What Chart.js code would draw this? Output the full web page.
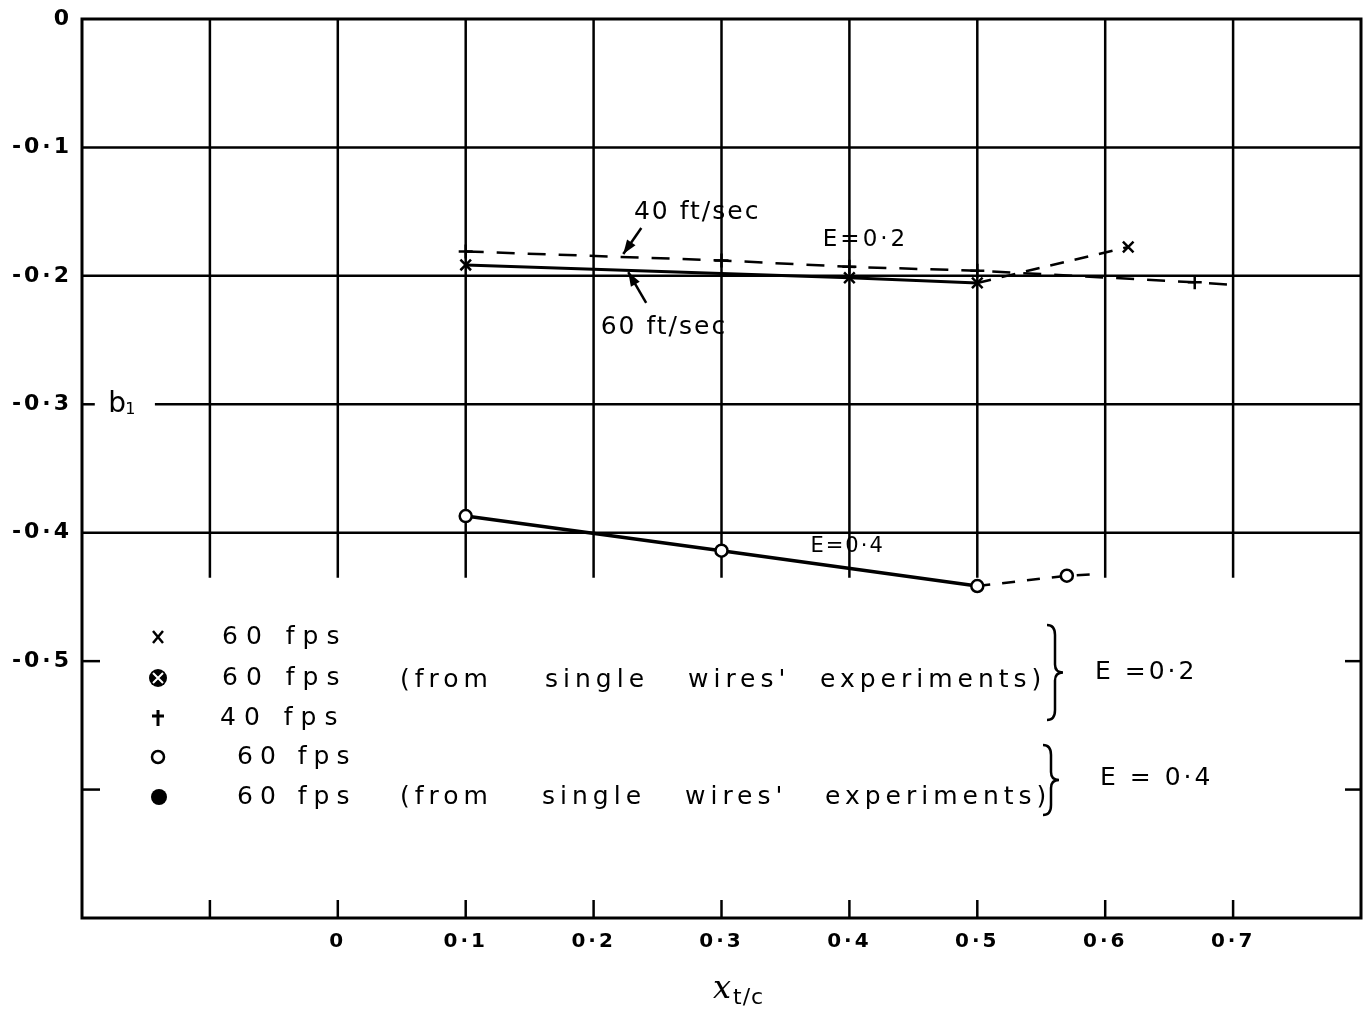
<!DOCTYPE html>
<html>
<head>
<meta charset="utf-8">
<title>b1 x xt/c</title>
<script src="https://cdn.jsdelivr.net/npm/chart.js"></script>
<style>
  html, body { margin: 0; padding: 0; background: #fff; }
  canvas { display: block; }
</style>
</head>
<body>
<canvas id="grafico" width="1371" height="1011"></canvas>
<script>
// ticks of the axes
const xTicks = [-0.2, -0.1, 0, 0.1, 0.2, 0.3, 0.4, 0.5, 0.6, 0.7, 0.8];
const xTickLabels = ["", "", "0", "0·1", "0·2", "0·3", "0·4", "0·5", "0·6", "0·7", ""];
const yTicks = [0, -0.1, -0.2, -0.3, -0.4, -0.5, -0.6, -0.7];
const yTickLabels = ["0", "-0·1", "-0·2", "-0·3", "-0·4", "-0·5", "", ""];

// E = 0.2, 40 ft/sec (+)
const x40 = [0.1, 0.3, 0.4, 0.5, 0.67, 0.7];
const b40 = [-0.181, -0.188, -0.193, -0.196, -0.205, -0.207];
// E = 0.2, 60 ft/sec (x)
const x60 = [0.1, 0.4, 0.5];
const b60 = [-0.1915, -0.2015, -0.2055];
const x60ext = [0.5, 0.618];
const b60ext = [-0.2055, -0.1775];
// E = 0.4, 60 ft/sec (o)
const xE4 = [0.1, 0.3, 0.5];
const bE4 = [-0.387, -0.414, -0.4415];
const xE4ext = [0.5, 0.57, 0.59];
const bE4ext = [-0.4415, -0.4335, -0.4325];

const FONTE = '"DejaVu Sans", sans-serif';

function pontos(xs, ys) {
  return xs.map((x, i) => ({ x: x, y: ys[i] }));
}

// wider letters for the tick labels (hand lettering)
const espacoPlugin = {
  id: "espaco",
  beforeDraw(chart) {
    chart.ctx.letterSpacing = "3px";
  },
};

// grid drawn by hand: the lines stop above the key
const gradePlugin = {
  id: "grade",
  beforeDatasetsDraw(chart) {
    const { ctx, chartArea: a, scales } = chart;
    const sx = scales.x, sy = scales.y;
    ctx.save();
    ctx.strokeStyle = "#000";
    ctx.lineWidth = 2.5;
    const linha = (x1, y1, x2, y2) => {
      ctx.beginPath();
      ctx.moveTo(x1, y1);
      ctx.lineTo(x2, y2);
      ctx.stroke();
    };
    const yFim = sy.getPixelForValue(-0.435);
    xTicks.slice(1, -1).forEach((v) => {
      const p = sx.getPixelForValue(v);
      linha(p, a.top, p, yFim);
      linha(p, a.bottom, p, a.bottom - 18);
    });
    [-0.1, -0.2, -0.4].forEach((v) => {
      const p = sy.getPixelForValue(v);
      linha(a.left, p, a.right, p);
    });
    const p3 = sy.getPixelForValue(-0.3);
    linha(a.left, p3, sx.getPixelForValue(-0.19), p3);
    linha(sx.getPixelForValue(-0.143), p3, a.right, p3);
    [-0.5, -0.6].forEach((v) => {
      const p = sy.getPixelForValue(v);
      linha(a.left, p, a.left + 18, p);
      linha(a.right - 16, p, a.right, p);
    });
    ctx.lineWidth = 3;
    ctx.strokeRect(a.left, a.top, a.right - a.left, a.bottom - a.top);
    ctx.restore();
  },
};

// labels, arrows, key and axis titles
const textosPlugin = {
  id: "textos",
  afterDatasetsDraw(chart) {
    const { ctx, scales } = chart;
    const px = (v) => scales.x.getPixelForValue(v);
    const py = (v) => scales.y.getPixelForValue(v);
    ctx.save();
    ctx.fillStyle = "#000";
    ctx.strokeStyle = "#000";
    ctx.textBaseline = "middle";

    const texto = (t, x, y, tam, esp, alinh) => {
      ctx.font = tam + "px " + FONTE;
      ctx.letterSpacing = (esp || 0) + "px";
      ctx.textAlign = alinh || "left";
      ctx.fillText(t, x, y);
    };
    const seta = (x1, y1, x2, y2) => {
      ctx.lineWidth = 2.5;
      ctx.beginPath();
      ctx.moveTo(x1, y1);
      ctx.lineTo(x2, y2);
      ctx.stroke();
      const ang = Math.atan2(y2 - y1, x2 - x1);
      ctx.beginPath();
      ctx.moveTo(x2, y2);
      ctx.lineTo(x2 - 15 * Math.cos(ang - 0.35), y2 - 15 * Math.sin(ang - 0.35));
      ctx.lineTo(x2 - 15 * Math.cos(ang + 0.35), y2 - 15 * Math.sin(ang + 0.35));
      ctx.closePath();
      ctx.fill();
    };
    const chave = (x, y1, y2) => {
      const m = (y1 + y2) / 2;
      ctx.lineWidth = 2.5;
      ctx.beginPath();
      ctx.moveTo(x, y1);
      ctx.quadraticCurveTo(x + 8, y1, x + 8, y1 + 10);
      ctx.lineTo(x + 8, m - 8);
      ctx.quadraticCurveTo(x + 8, m, x + 16, m);
      ctx.quadraticCurveTo(x + 8, m, x + 8, m + 8);
      ctx.lineTo(x + 8, y2 - 10);
      ctx.quadraticCurveTo(x + 8, y2, x, y2);
      ctx.stroke();
    };

    // curve labels
    texto("40 ft/sec", px(0.281), py(-0.151), 25, 2, "center");
    texto("60 ft/sec", px(0.255), py(-0.2406), 25, 2, "center");
    texto("E=0·2", px(0.4126), py(-0.172), 23, 3, "center");
    texto("E=0·4", px(0.3986), py(-0.411), 21, 2, "center");
    seta(px(0.2373), py(-0.1627), px(0.2232), py(-0.183));
    seta(px(0.2411), py(-0.2211), px(0.2271), py(-0.197));

    // b1
    ctx.textBaseline = "alphabetic";
    texto("b", px(-0.1795), py(-0.3) + 8, 28, 0, "left");
    texto("1", px(-0.1795) + 17, py(-0.3) + 10, 16, 0, "left");

    // x axis title
    ctx.font = "italic 32px \"DejaVu Serif\", serif";
    ctx.letterSpacing = "0px";
    ctx.textAlign = "right";
    ctx.fillText("x", 731, 998);
    texto("t/c", 733, 1004, 22, 1, "left");
    ctx.textBaseline = "middle";

    // key
    const sx0 = 158;
    const lin = [637, 678, 718, 757, 797];
    ctx.lineWidth = 2.5;
    // x
    ctx.beginPath();
    ctx.moveTo(sx0 - 5, lin[0] - 6); ctx.lineTo(sx0 + 5, lin[0] + 6);
    ctx.moveTo(sx0 + 5, lin[0] - 6); ctx.lineTo(sx0 - 5, lin[0] + 6);
    ctx.stroke();
    // circled cross
    ctx.beginPath();
    ctx.arc(sx0, lin[1], 9, 0, Math.PI * 2);
    ctx.fill();
    ctx.strokeStyle = "#fff";
    ctx.lineWidth = 2;
    ctx.beginPath();
    ctx.moveTo(sx0 - 5, lin[1] - 5); ctx.lineTo(sx0 + 5, lin[1] + 5);
    ctx.moveTo(sx0 + 5, lin[1] - 5); ctx.lineTo(sx0 - 5, lin[1] + 5);
    ctx.stroke();
    ctx.strokeStyle = "#000";
    ctx.lineWidth = 3;
    // +
    ctx.beginPath();
    ctx.moveTo(sx0, lin[2] - 8); ctx.lineTo(sx0, lin[2] + 8);
    ctx.moveTo(sx0 - 6, lin[2] - 2); ctx.lineTo(sx0 + 6, lin[2] - 2);
    ctx.stroke();
    // o
    ctx.lineWidth = 2.5;
    ctx.beginPath();
    ctx.arc(sx0, lin[3], 6, 0, Math.PI * 2);
    ctx.stroke();
    // filled dot
    ctx.beginPath();
    ctx.arc(sx0 + 1, lin[4], 8, 0, Math.PI * 2);
    ctx.fill();

    texto("60 fps", 222, lin[0], 25, 8);
    texto("60 fps", 222, lin[1], 25, 8);
    texto("40 fps", 220, lin[2], 25, 8);
    texto("60 fps", 237, lin[3], 25, 7);
    texto("60 fps", 237, lin[4], 25, 7);

    const palavras = ["(from", "single", "wires'", "experiments)"];
    [400, 545, 688, 820].forEach((x, i) => texto(palavras[i], x, lin[1] + 2, 25, 5));
    [400, 542, 685, 825].forEach((x, i) => texto(palavras[i], x, lin[4], 25, 5));
    chave(1047, 625, 720);
    chave(1043, 745, 815);
    texto("E =0·2", 1095, 672, 25, 3);
    texto("E = 0·4", 1100, 778, 25, 3);
    ctx.restore();
  },
};

const ctx = document.getElementById("grafico");
new Chart(ctx, {
  type: "scatter",
  data: {
    datasets: [
      {
        label: "40 ft/sec",
        data: pontos(x40, b40),
        showLine: true,
        borderColor: "#000",
        borderWidth: 2.5,
        borderDash: [18, 13],
        pointStyle: "cross",
        pointRadius: [7, 7, 7, 7, 7, 0],
        pointBorderWidth: 2.5,
        pointBorderColor: "#000",
        pointBackgroundColor: "#000",
      },
      {
        label: "60 ft/sec",
        data: pontos(x60, b60),
        showLine: true,
        borderColor: "#000",
        borderWidth: 3,
        pointStyle: "crossRot",
        pointRadius: 7.5,
        pointBorderWidth: 2.5,
        pointBorderColor: "#000",
        pointBackgroundColor: "#000",
      },
      {
        label: "60 ft/sec ext",
        data: pontos(x60ext, b60ext),
        showLine: true,
        borderColor: "#000",
        borderWidth: 2.5,
        borderDash: [14, 11],
        pointStyle: "crossRot",
        pointRadius: [0, 7.5],
        pointBorderWidth: 2.5,
        pointBorderColor: "#000",
        pointBackgroundColor: "#000",
      },
      {
        label: "E=0.4",
        data: pontos(xE4, bE4),
        showLine: true,
        borderColor: "#000",
        borderWidth: 3.5,
        pointStyle: "circle",
        pointRadius: 6,
        pointBorderWidth: 2.5,
        pointBorderColor: "#000",
        pointBackgroundColor: "#fff",
      },
      {
        label: "E=0.4 ext",
        data: pontos(xE4ext, bE4ext),
        showLine: true,
        borderColor: "#000",
        borderWidth: 2.5,
        borderDash: [13, 12],
        pointStyle: "circle",
        pointRadius: [0, 6, 0],
        pointBorderWidth: 2.5,
        pointBorderColor: "#000",
        pointBackgroundColor: "#fff",
      },
    ],
  },
  options: {
    responsive: false,
    animation: false,
    layout: { padding: { top: 19, right: 6, left: 0, bottom: 0 } },
    plugins: { legend: { display: false }, tooltip: { enabled: false } },
    scales: {
      x: {
        type: "linear",
        min: -0.2,
        max: 0.8,
        grid: { display: false, drawTicks: false },
        border: { display: false },
        afterBuildTicks: (s) => { s.ticks = xTicks.map((v) => ({ value: v })); },
        afterFit: (s) => {
          s.height = 93;
          s.paddingLeft = 0;
          s.paddingRight = 0;
        },
        ticks: {
          autoSkip: false,
          maxRotation: 0,
          padding: 12,
          color: "#000",
          font: { family: FONTE, size: 20, weight: "bold" },
          callback: (v, i) => xTickLabels[i],
        },
      },
      y: {
        type: "linear",
        min: -0.7,
        max: 0,
        grid: { display: false, drawTicks: false },
        border: { display: false },
        afterBuildTicks: (s) => { s.ticks = yTicks.map((v) => ({ value: v })); },
        afterFit: (s) => {
          s.width = 82;
          s.paddingTop = 0;
          s.paddingBottom = 0;
        },
        ticks: {
          autoSkip: false,
          padding: 10,
          color: "#000",
          font: { family: FONTE, size: 22, weight: "bold" },
          callback: (v, i) => yTickLabels[i],
        },
      },
    },
  },
  plugins: [espacoPlugin, gradePlugin, textosPlugin],
});
</script>
</body>
</html>
